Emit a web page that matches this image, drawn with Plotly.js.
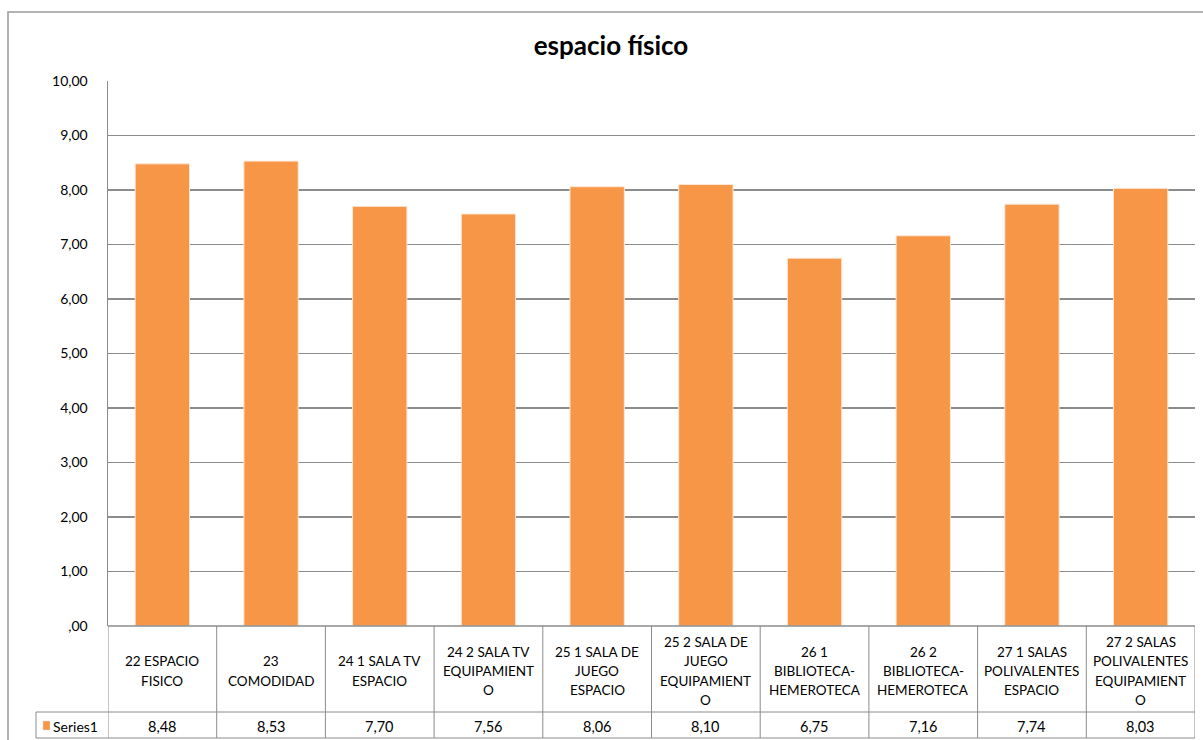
<!DOCTYPE html>
<html>
<head>
<meta charset="utf-8">
<script src="https://cdn.plot.ly/plotly-3.0.1.min.js"></script>
<style>
html,body{margin:0;padding:0;background:#fff;}
#chart{width:1203px;height:740px;}
</style>
</head>
<body>
<div id="chart"></div>
<script>
// ---- data ----
const categories = ["22 ESPACIO FISICO","23 COMODIDAD","24 1 SALA TV ESPACIO","24 2 SALA TV EQUIPAMIENTO","25 1 SALA DE JUEGO ESPACIO","25 2 SALA DE JUEGO EQUIPAMIENTO","26 1 BIBLIOTECA-HEMEROTECA","26 2 BIBLIOTECA-HEMEROTECA","27 1 SALAS POLIVALENTES ESPACIO","27 2 SALAS POLIVALENTES EQUIPAMIENTO"];
const categoryLines = [
  ["22 ESPACIO", "FISICO"],
  ["23", "COMODIDAD"],
  ["24 1 SALA TV", "ESPACIO"],
  ["24 2 SALA TV", "EQUIPAMIENT", "O"],
  ["25 1 SALA DE", "JUEGO", "ESPACIO"],
  ["25 2 SALA DE", "JUEGO", "EQUIPAMIENT", "O"],
  ["26 1", "BIBLIOTECA-", "HEMEROTECA"],
  ["26 2", "BIBLIOTECA-", "HEMEROTECA"],
  ["27 1 SALAS", "POLIVALENTES", "ESPACIO"],
  ["27 2 SALAS", "POLIVALENTES", "EQUIPAMIENT", "O"]
];
const seriesName = "Series1";
const values = [8.48, 8.53, 7.70, 7.56, 8.06, 8.10, 6.75, 7.16, 7.74, 8.03];
const yTicks = [0,1,2,3,4,5,6,7,8,9,10];
const chartTitle = "espacio físico";

// ---- layout geometry (pixels) ----
const W = 1203, H = 740;
const plotL = 108, plotR = 1195, plotT = 81, plotB = 626;
const catRowB = 712, valRowB = 738, legendCellL = 36;
const catCenter = 671, lineGap = 19.3;
const frameL = 8, frameT = 12;
const pw = plotR - plotL, ph = plotB - plotT;
const px = x => (x - plotL) / pw;         // pixel x -> paper x
const py = y => (plotB - y) / ph;         // pixel y -> paper y

const fmt = v => v.toFixed(2).replace('.', ',').replace(/^0,/, ',');
const orange = "#F79646";
const gridCol = "#8c8c8c";
const font = "Lato, 'Open Sans', sans-serif";
const n = categories.length;

const xIdx = categories.map((c, i) => i);

const trace = {
  type: "bar",
  x: xIdx,
  y: values,
  name: seriesName,
  width: 0.5,
  marker: {color: orange, line: {color: "#fde7d6", width: 1}},
  hoverinfo: "y"
};

const shapes = [];
const annotations = [];
const line = (xref, x0, x1, yref, y0, y1, w) => ({
  type: "line", xref, yref, x0, x1, y0, y1,
  line: {color: gridCol, width: w || 1}
});

// outer chart frame
shapes.push({type: "rect", xref: "paper", yref: "paper",
  x0: px(frameL), x1: px(W + 20), y0: py(H + 20), y1: py(frameT),
  line: {color: "#9a9a9a", width: 1.5}, fillcolor: "rgba(0,0,0,0)", layer: "below"});

// table horizontal lines
shapes.push(line("paper", 0, 1, "paper", 0, 0, 1.5));
shapes.push(line("paper", px(legendCellL), 1, "paper", py(catRowB), py(catRowB)));
shapes.push(line("paper", px(legendCellL), 1, "paper", py(valRowB), py(valRowB)));
// table vertical lines (at category boundaries)
for (let i = 0; i <= n; i++) {
  shapes.push(line("x", i - 0.5, i - 0.5, "paper", 0, py(valRowB)));
}
shapes.push(line("paper", px(legendCellL), px(legendCellL), "paper", py(catRowB), py(valRowB)));
// legend key square
shapes.push({type: "rect", xref: "paper", yref: "paper",
  x0: px(43), x1: px(50), y0: py(730), y1: py(721),
  fillcolor: orange, line: {color: "#d8d8d8", width: 0.5}});

// category labels and values
for (let i = 0; i < n; i++) {
  const lines = categoryLines[i];
  lines.forEach((t, j) => {
    const yPix = catCenter + (j - (lines.length - 1) / 2) * lineGap;
    annotations.push({xref: "x", yref: "paper", x: xIdx[i], y: py(yPix),
      text: t, showarrow: false, xanchor: "center", yanchor: "middle",
      font: {family: font, size: 13.5, color: "#000"}});
  });
  annotations.push({xref: "x", yref: "paper", x: xIdx[i], y: py((catRowB + valRowB) / 2 + 1),
    text: fmt(values[i]), showarrow: false, xanchor: "center", yanchor: "middle",
    font: {family: font, size: 14.5, color: "#000"}});
}
annotations.push({xref: "paper", yref: "paper", x: px(51), y: py((catRowB + valRowB) / 2 + 1),
  text: seriesName, showarrow: false, xanchor: "left", yanchor: "middle",
  font: {family: font, size: 14, color: "#000"}});

const layout = {
  width: W, height: H,
  margin: {l: plotL, r: W - plotR, t: plotT, b: H - plotB, pad: 0},
  paper_bgcolor: "#fff", plot_bgcolor: "#fff",
  showlegend: false,
  title: {text: "<b>" + chartTitle + "</b>", xref: "container", yref: "container",
    x: 611 / W, y: 1 - 46 / H, xanchor: "center", yanchor: "middle",
    font: {family: font, size: 26, color: "#000"}},
  xaxis: {range: [-0.5, n - 0.5], showticklabels: false, showgrid: false,
    zeroline: false, showline: false, ticks: "", fixedrange: true},
  yaxis: {range: [0, 10], tickvals: yTicks, ticktext: yTicks.map(fmt),
    showgrid: true, gridcolor: gridCol, gridwidth: 1.5, zeroline: false,
    showline: true, linecolor: gridCol, linewidth: 1.5, ticks: "",
    ticklabelstandoff: 16,
    tickfont: {family: font, size: 14, color: "#000"}, fixedrange: true},
  shapes, annotations
};

Plotly.newPlot("chart", [trace], layout, {displayModeBar: false, staticPlot: true});
</script>
</body>
</html>
